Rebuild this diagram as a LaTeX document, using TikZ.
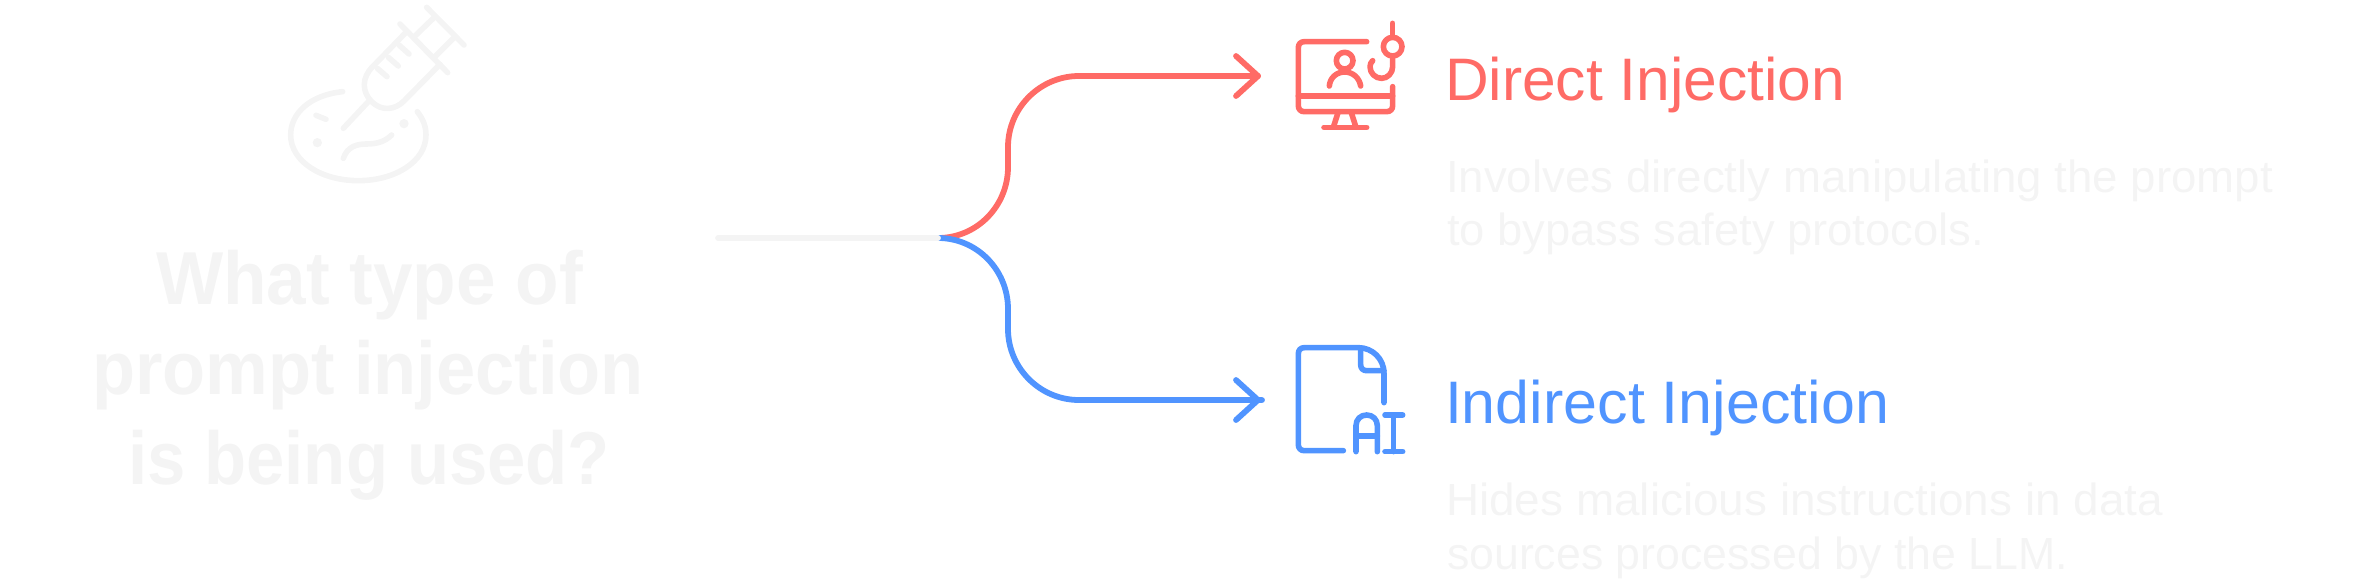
\documentclass[tikz,border=0pt]{standalone}
\usepackage{fontspec}
\setmainfont{Liberation Sans}
\definecolor{faint}{HTML}{F4F4F4}
\definecolor{redc}{HTML}{FF6B66}
\definecolor{bluec}{HTML}{5094FF}
\newcommand\fitw[2]{\resizebox{#1pt}{\height}{#2}}
\tikzset{
  conn/.style={line width=5.8pt,line cap=round,line join=round},
  ico/.style={line width=5.6pt,line cap=round,line join=round},
  lab/.style={anchor=base west,inner sep=0pt,outer sep=0pt},
  titletext/.style={lab,text=faint,font=\fontsize{75pt}{75pt}\selectfont\bfseries},
  headtext/.style={lab,font=\fontsize{60pt}{60pt}\selectfont},
  bodytext/.style={lab,text=faint,font=\fontsize{45pt}{45pt}\selectfont},
  zoomgrid/.style={x=0.3333pt,y=-0.3333pt}
}
\begin{document}
\begin{tikzpicture}[x=1pt,y=-1pt]
\useasboundingbox (0,0) rectangle (2376,587);
% title
\node[titletext] (t1) at (156,304) {\fitw{427}{What type of}};
\node[titletext] (t2) at (92,394) {\fitw{552}{prompt injection}};
\node[titletext] (t3) at (128,484) {\fitw{482}{is being used?}};
% right hand texts
\node[headtext,text=redc] (h1) at (1445,100) {\fitw{400}{Direct Injection}};
\node[bodytext] (b1a) at (1446,192) {\fitw{827}{Involves directly manipulating the prompt}};
\node[bodytext] (b1b) at (1447,245) {\fitw{537}{to bypass safety protocols.}};
\node[headtext,text=bluec] (h2) at (1445,423) {\fitw{444}{Indirect Injection}};
\node[bodytext] (b2a) at (1446,515) {\fitw{717}{Hides malicious instructions in data}};
\node[bodytext] (b2b) at (1447,569) {\fitw{621}{sources processed by the LLM.}};
% connectors
\coordinate (start) at (718,238);
\coordinate (junction) at (938,238);
\coordinate (redtip) at (1258,76);
\coordinate (blueend) at (1262,400);
\coordinate (bluetip) at (1258,400);
\draw[conn,redc] (junction) .. controls +(39,0) and (1008,206) .. (1008,167)
  -- (1008,147) .. controls (1008,108) and (1040,76) .. (1079,76) -- (redtip);
\draw[conn,redc] (redtip) ++(-22,-20) -- (redtip) -- ++(-22,20);
\draw[conn,bluec] (junction) .. controls +(39,0) and (1008,270) .. (1008,309)
  -- (1008,329) .. controls (1008,368) and (1040,400) .. (1079,400) -- (blueend);
\draw[conn,bluec] (bluetip) ++(-22,-20) -- (bluetip) -- ++(-22,20);
\draw[conn,faint] (start) -- (junction);
% syringe and dish icon
\begin{scope}[shift={(260,0)},zoomgrid,ico,faint]
  \draw (500,22) -- (612,135);
  \draw (525,50) -- (465,108);
  \draw (583,112) -- (525,170);
  \draw (420,72) -- (563,218);
  \draw (440,95) -- (338,200) .. controls (305,233) and (305,275) .. (335,305)
     .. controls (365,335) and (405,330) .. (432,303) -- (540,193);
  \draw (352,205) -- (381,230);
  \draw (385,172) -- (415,198);
  \draw (417,135) -- (447,162);
  \draw (325,305) -- (250,385);
  \draw (248,275) .. controls (150,285) and (92,340) .. (92,405)
     .. controls (92,485) and (185,542) .. (295,542)
     .. controls (405,542) and (498,485) .. (498,405)
     .. controls (498,380) and (490,358) .. (472,335);
  \fill (172,428) circle[radius=14];
  \fill (432,371) circle[radius=14];
  \draw (168,346) -- (198,358);
  \draw (250,475) .. controls (262,440) and (290,432) .. (320,432)
     .. controls (350,432) and (375,425) .. (395,405);
\end{scope}
% monitor and hook icon
\begin{scope}[shift={(1270,10)},zoomgrid,ico,redc]
  \draw (290,95) -- (103,95) .. controls (92,95) and (85,102) .. (85,113)
     -- (85,287) .. controls (85,298) and (92,305) .. (103,305)
     -- (350,305) .. controls (361,305) and (368,298) .. (368,287) -- (368,230);
  \draw (85,258) -- (368,258);
  \draw (205,305) -- (190,352);
  \draw (243,305) -- (258,352);
  \draw (162,352) -- (290,352);
  \draw (224,152) circle[radius=25];
  \draw (178,228) .. controls (180,203) and (200,186) .. (224,186)
     .. controls (248,186) and (268,203) .. (272,228);
  \draw (368,40) -- (368,80);
  \draw (368,110) circle[radius=28];
  \draw (368,138) -- (368,170) .. controls (368,190) and (352,205) .. (335,205)
     .. controls (316,205) and (300,190) .. (300,170) .. controls (300,163) and (303,157) .. (308,152);
\end{scope}
% file AI icon
\begin{scope}[shift={(1270,330)},zoomgrid,ico,bluec]
  \draw (220,362) -- (103,362) .. controls (92,362) and (85,355) .. (85,344)
     -- (85,71) .. controls (85,60) and (92,53) .. (103,53)
     -- (265,53) .. controls (308,53) and (342,87) .. (342,130) -- (342,218);
  \draw (272,55) -- (272,104) .. controls (272,115) and (279,122) .. (290,122) -- (342,122);
  \draw (258,365) -- (258,287) .. controls (258,268) and (272,255) .. (290,255)
     .. controls (308,255) and (322,268) .. (322,287) -- (322,365);
  \draw (258,318) -- (322,318);
  \draw (345,255) -- (398,255);
  \draw (345,365) -- (398,365);
  \draw (371,255) -- (371,365);
\end{scope}
\end{tikzpicture}
\end{document}
